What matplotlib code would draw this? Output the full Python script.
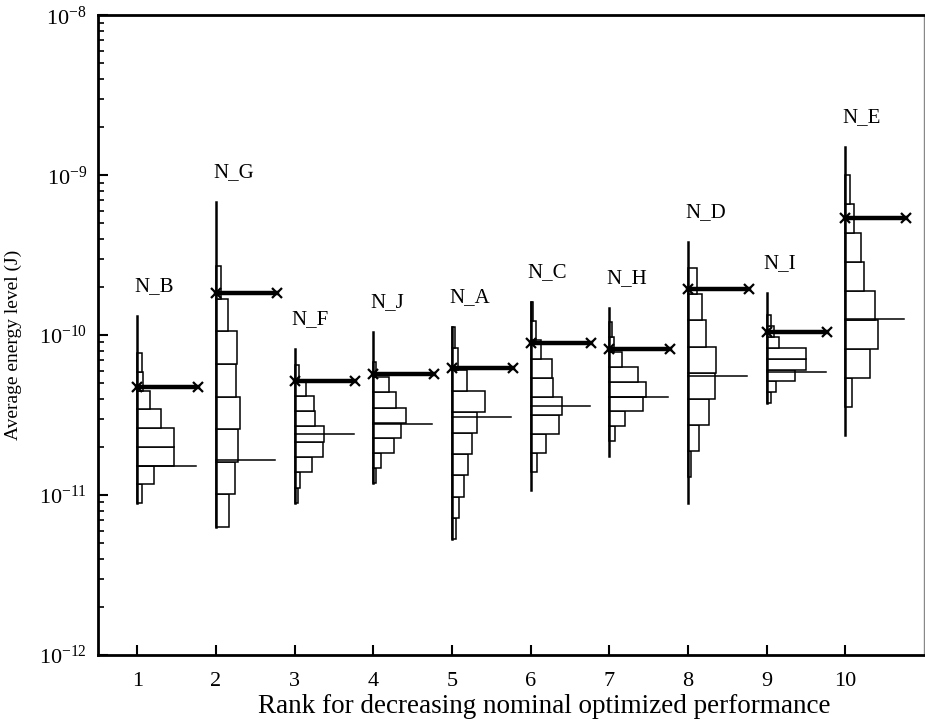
import numpy as np
import matplotlib
matplotlib.use("Agg")
from matplotlib import pyplot as plt
from matplotlib.ticker import NullFormatter

plt.rcParams['font.family'] = ['Liberation Serif', 'DejaVu Serif']
plt.rcParams['mathtext.fontset'] = 'custom'
plt.rcParams['mathtext.rm'] = 'Liberation Serif'

ranks = [1, 2, 3, 4, 5, 6, 7, 8, 9, 10]
names = ['N_B', 'N_G', 'N_F', 'N_J', 'N_A', 'N_C', 'N_H', 'N_D', 'N_I', 'N_E']

# log10 of histogram range (J) and counts from bottom to top
hist_lo = [-11.050, -11.200, -11.050, -10.925, -11.275, -10.856, -10.663, -10.888, -10.425, -10.450]
hist_hi = [-10.113, -9.569, -10.188, -10.169, -9.950, -9.794, -9.919, -9.581, -9.875, -9.000]
counts = [
    [5, 17, 37, 37, 24, 13, 6, 5],
    [13, 19, 22, 24, 20, 21, 12, 5],
    [3, 5, 17, 28, 29, 20, 19, 11, 4],
    [3, 8, 21, 28, 33, 23, 16, 3],
    [4, 7, 12, 16, 20, 25, 33, 15, 6, 3],
    [6, 15, 28, 31, 22, 21, 10, 5, 2],
    [6, 16, 34, 37, 29, 13, 5, 3],
    [3, 11, 21, 27, 28, 18, 14, 9],
    [4, 9, 28, 39, 39, 12, 7, 4],
    [7, 25, 33, 30, 19, 16, 9, 5],
]
# full spread of samples (log10)
log_max = [-9.881, -9.169, -10.088, -9.981, -9.950, -9.794, -9.831, -9.419, -9.738, -8.825]
log_min = [-11.050, -11.200, -11.050, -10.925, -11.275, -10.969, -10.756, -11.050, -10.425, -10.625]
# nominal optimized value and median (log10)
log_nominal = [-10.325, -9.738, -10.288, -10.244, -10.206, -10.050, -10.088, -9.713, -9.981, -9.269]
log_median = [-10.819, -10.781, -10.619, -10.556, -10.513, -10.444, -10.388, -10.256, -10.231, -9.900]

scale = 1 / 78.8  # count -> rank units

fig = plt.figure(figsize=(9.25, 7.27), dpi=100)
ax = fig.add_axes([0.106, 0.099, 0.893, 0.880])

for i, r in enumerate(ranks):
    c = np.array(counts[i])
    edges = 10 ** np.linspace(hist_lo[i], hist_hi[i], len(c) + 1)
    ax.barh(edges[:-1], c * scale, height=np.diff(edges), left=r, align='edge',
            color='white', edgecolor='black', linewidth=1.1, zorder=2)
    ax.plot([r, r], [10 ** log_min[i], 10 ** log_max[i]], color='black', lw=1.8, zorder=3)
    ax.plot([r, r + 0.75], [10 ** log_median[i]] * 2, color='black', lw=1.1, zorder=4)
    ax.plot([r, r + 0.77], [10 ** log_nominal[i]] * 2, color='black', lw=3.2,
            marker='x', ms=7, mew=1.6, zorder=5)
    ax.annotate(names[i], (r - 0.04, 10 ** log_max[i]), xytext=(0, 21),
                textcoords='offset points', ha='left', va='center', fontsize=15)

ax.set_yscale('log')
ax.set_ylim(1e-12, 1e-8)
ax.set_xlim(0.5, 11)
ax.set_xticks(ranks)
ax.yaxis.set_minor_formatter(NullFormatter())
ax.tick_params(axis='both', which='major', direction='in', labelsize=16, length=7, width=1.5)
ax.tick_params(axis='y', which='minor', direction='in', length=4, width=1.2)
ax.tick_params(axis='x', pad=12)
ax.tick_params(axis='y', pad=8)
for s in ['left', 'bottom', 'top']:
    ax.spines[s].set_linewidth(2)
ax.spines['right'].set_linewidth(1)
ax.spines['right'].set_color('#888888')

ax.set_xlabel('Rank for decreasing nominal optimized performance', fontsize=19.5)
ax.xaxis.set_label_coords(0.54, -0.061)
ax.set_ylabel('Average energy level (J)', fontsize=14)
ax.yaxis.set_label_coords(-0.0917, 0.485)

fig.savefig('out.png', dpi=100)
